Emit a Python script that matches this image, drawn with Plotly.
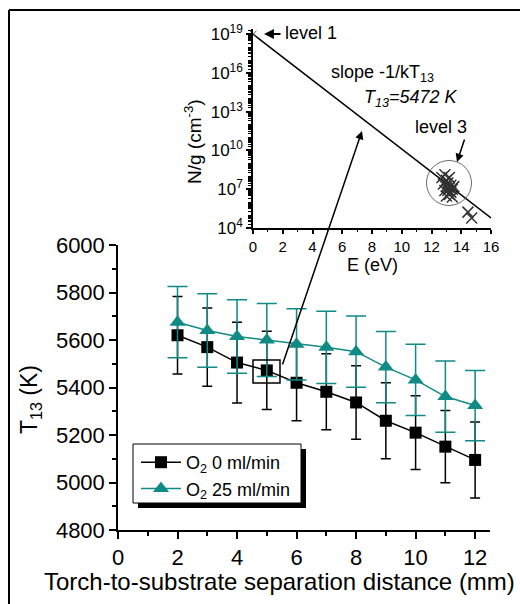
import plotly.graph_objects as go

# ---------------- data ----------------
distance_mm = [2, 3, 4, 5, 6, 7, 8, 9, 10, 11, 12]
t13_o2_0 = [5620, 5570, 5505, 5472, 5420, 5382, 5337, 5260, 5210, 5151, 5095]
err_o2_0 = [163, 165, 170, 165, 160, 160, 155, 160, 155, 152, 160]
t13_o2_25 = [5675, 5640, 5615, 5600, 5582, 5569, 5551, 5486, 5432, 5362, 5324]
err_o2_25 = [150, 155, 155, 154, 150, 152, 150, 150, 150, 150, 148]

# inset: Boltzmann plot
fit_E = [0, 16]
fit_N = [1e19, 6e4]
level1_E = [0]
level1_N = [1e19]
level3_E = [12.7, 12.8, 12.9, 13.0, 13.0, 13.1, 13.1, 13.2, 13.2, 13.3, 13.3, 13.4, 13.5, 13.0, 13.2, 12.9, 13.4, 14.45, 14.7]
level3_N = [8e7, 2.5e7, 1.3e8, 1.6e7, 5e7, 8e6, 3e7, 1.3e7, 4e6, 2e7, 6e6, 1e7, 1.6e7, 3e6, 8e7, 8e6, 2.5e6, 1.7e5, 6e4]

x_ticks = [0, 2, 4, 6, 8, 10, 12]
inset_x_ticks = [0, 2, 4, 6, 8, 10, 12, 14, 16]
inset_y_ticks = [1e4, 1e7, 1e10, 1e13, 1e16, 1e19]
inset_y_labels = ["10<sup>4</sup>", "10<sup>7</sup>", "10<sup>10</sup>", "10<sup>13</sup>",
                  "10<sup>16</sup>", "10<sup>19</sup>"]

W, H = 520, 604
TEAL = "#0F8A84"
FONT = "Arial, Liberation Sans, sans-serif"


def px(x):
    return x / W


def py(y):
    return 1 - y / H


fig = go.Figure()

fig.add_trace(go.Scatter(
    x=distance_mm, y=t13_o2_0, mode="lines+markers", name="O<sub>2</sub> 0 ml/min",
    line=dict(color="black", width=1.5),
    marker=dict(symbol="square", size=12, color="black"),
    error_y=dict(type="data", array=err_o2_0, color="black", thickness=1.5, width=5),
    xaxis="x", yaxis="y"))
fig.add_trace(go.Scatter(
    x=distance_mm, y=t13_o2_25, mode="lines+markers", name="O<sub>2</sub> 25 ml/min",
    line=dict(color=TEAL, width=1.5),
    marker=dict(symbol="triangle-up", size=14, color=TEAL),
    error_y=dict(type="data", array=err_o2_25, color=TEAL, thickness=1.5, width=10),
    xaxis="x", yaxis="y"))

# inset traces
fig.add_trace(go.Scatter(x=fit_E, y=fit_N, mode="lines", line=dict(color="black", width=1.5),
                         showlegend=False, xaxis="x2", yaxis="y2"))
fig.add_trace(go.Scatter(x=level3_E, y=level3_N, mode="markers", showlegend=False,
                         marker=dict(symbol="x-thin", size=11, line=dict(color="#333333", width=1.5)),
                         xaxis="x2", yaxis="y2"))
fig.add_trace(go.Scatter(x=level1_E, y=level1_N, mode="markers", showlegend=False,
                         marker=dict(symbol="x-thin", size=7, line=dict(color="#555555", width=1)),
                         xaxis="x2", yaxis="y2", cliponaxis=False))

axis_common = dict(showgrid=False, zeroline=False, showline=True, linecolor="black",
                   linewidth=1.5, ticks="outside", tickcolor="black", tickwidth=1.5,
                   automargin=False)

minor_y2 = [float(m) * 10.0 ** e for e in range(4, 20) for m in range(1, 10)
            if 1e4 <= float(m) * 10.0 ** e <= 10 ** 19.4]

fig.update_layout(
    width=W, height=H,
    margin=dict(l=0, r=0, t=0, b=0, autoexpand=False),
    paper_bgcolor="white", plot_bgcolor="rgba(0,0,0,0)",
    font=dict(family=FONT, color="black"),
    xaxis=dict(domain=[px(118), px(490)], range=[0, 12.5], anchor="y",
               tickmode="array", tickvals=x_ticks, ticklen=7,
               tickfont=dict(size=22),
               minor=dict(dtick=1, tick0=0, ticks="outside", ticklen=4, tickcolor="black", tickwidth=1.5),
               **axis_common),
    yaxis=dict(domain=[py(530), py(245)], range=[4800, 6000], anchor="x",
               dtick=200, tick0=4800, ticklen=7, tickfont=dict(size=22),
               minor=dict(dtick=100, tick0=4800, ticks="outside", ticklen=4, tickcolor="black", tickwidth=1.5),
               **axis_common),
    xaxis2=dict(domain=[px(253), px(491)], range=[0, 16], anchor="y2",
                tickmode="array", tickvals=inset_x_ticks, ticklen=4,
                tickfont=dict(size=15),
                minor=dict(dtick=1, tick0=0, ticks="outside", ticklen=2, tickcolor="black", tickwidth=1.2),
                **axis_common),
    yaxis2=dict(domain=[py(228), py(29)], type="log", range=[4, 19.4], anchor="x2",
                tickmode="array", tickvals=inset_y_ticks, ticktext=inset_y_labels, ticklen=5,
                tickfont=dict(size=17),
                minor=dict(tickmode="array", tickvals=minor_y2, ticks="outside", ticklen=3,
                           tickcolor="black", tickwidth=1),
                **axis_common),
    legend=dict(x=px(136), y=py(444), xanchor="left", yanchor="top",
                borderwidth=0, bgcolor="rgba(0,0,0,0)",
                font=dict(size=18, family=FONT), itemwidth=40,
                tracegroupgap=0),
)

shapes = [
    # outer frame (left and top)
    dict(type="line", xref="paper", yref="paper", x0=px(9), x1=1.01, y0=py(10), y1=py(10),
         line=dict(color="black", width=2)),
    dict(type="line", xref="paper", yref="paper", x0=px(9), x1=px(9), y0=py(10), y1=-0.01,
         line=dict(color="black", width=2)),
    # legend shadow + box
    dict(type="rect", xref="paper", yref="paper", x0=px(138), x1=px(306), y0=py(508), y1=py(449),
         fillcolor="black", line=dict(width=0), layer="below"),
    dict(type="rect", xref="paper", yref="paper", x0=px(133), x1=px(301), y0=py(503), y1=py(444),
         fillcolor="white", line=dict(color="black", width=1), layer="below"),
    # box around the x=5 point
    dict(type="rect", xref="paper", yref="paper", x0=px(253), x1=px(280), y0=py(383), y1=py(360),
         line=dict(color="black", width=1.5)),
    # circle around level 3
    dict(type="circle", xref="paper", yref="paper", x0=px(426.5), x1=px(471.5), y0=py(205.5), y1=py(160.5),
         line=dict(color="#444444", width=0.8)),
]
fig.update_layout(shapes=shapes)

ann = []


def arrow(x_tail, y_tail, x_head, y_head, size=1.0, width=1.5):
    ann.append(dict(xref="paper", yref="paper", x=px(x_head), y=py(y_head),
                    ax=x_tail - x_head, ay=y_tail - y_head, axref="pixel", ayref="pixel",
                    text="", showarrow=True, arrowhead=2, arrowsize=size, arrowwidth=width,
                    arrowcolor="black"))


def text(x, y, s, size=18, xanchor="center", angle=0, italic=False):
    if italic:
        s = "<i>" + s + "</i>"
    ann.append(dict(xref="paper", yref="paper", x=px(x), y=py(y), text=s, showarrow=False,
                    xanchor=xanchor, yanchor="middle", textangle=angle,
                    font=dict(size=size, family=FONT, color="black")))


arrow(282, 366, 362, 131, size=1.1, width=1.5)
arrow(282, 34, 264, 34, size=1.1, width=1.8)
arrow(465, 138, 457, 162, size=1.1, width=1.5)
text(283, 33, "level 1", xanchor="left")
text(329, 74, "slope -1/kT<sub>13</sub>", xanchor="left")
text(362, 98, "T<sub>13</sub>=5472 K", xanchor="left", italic=True)
text(413, 127, "level 3", xanchor="left")
text(372, 265, "E (eV)", size=18)
text(193, 142, "N/g (cm<sup>-3</sup>)", size=19, angle=-90)
text(279, 581, "Torch-to-substrate separation distance (mm)", size=24)
text(30, 400, "T<sub>13</sub> (K)", size=23, angle=-90)

fig.update_layout(annotations=ann)

fig.write_html("out.html", config={"displayModeBar": False},
               post_script="document.body.style.margin='0';document.body.style.padding='0';")
